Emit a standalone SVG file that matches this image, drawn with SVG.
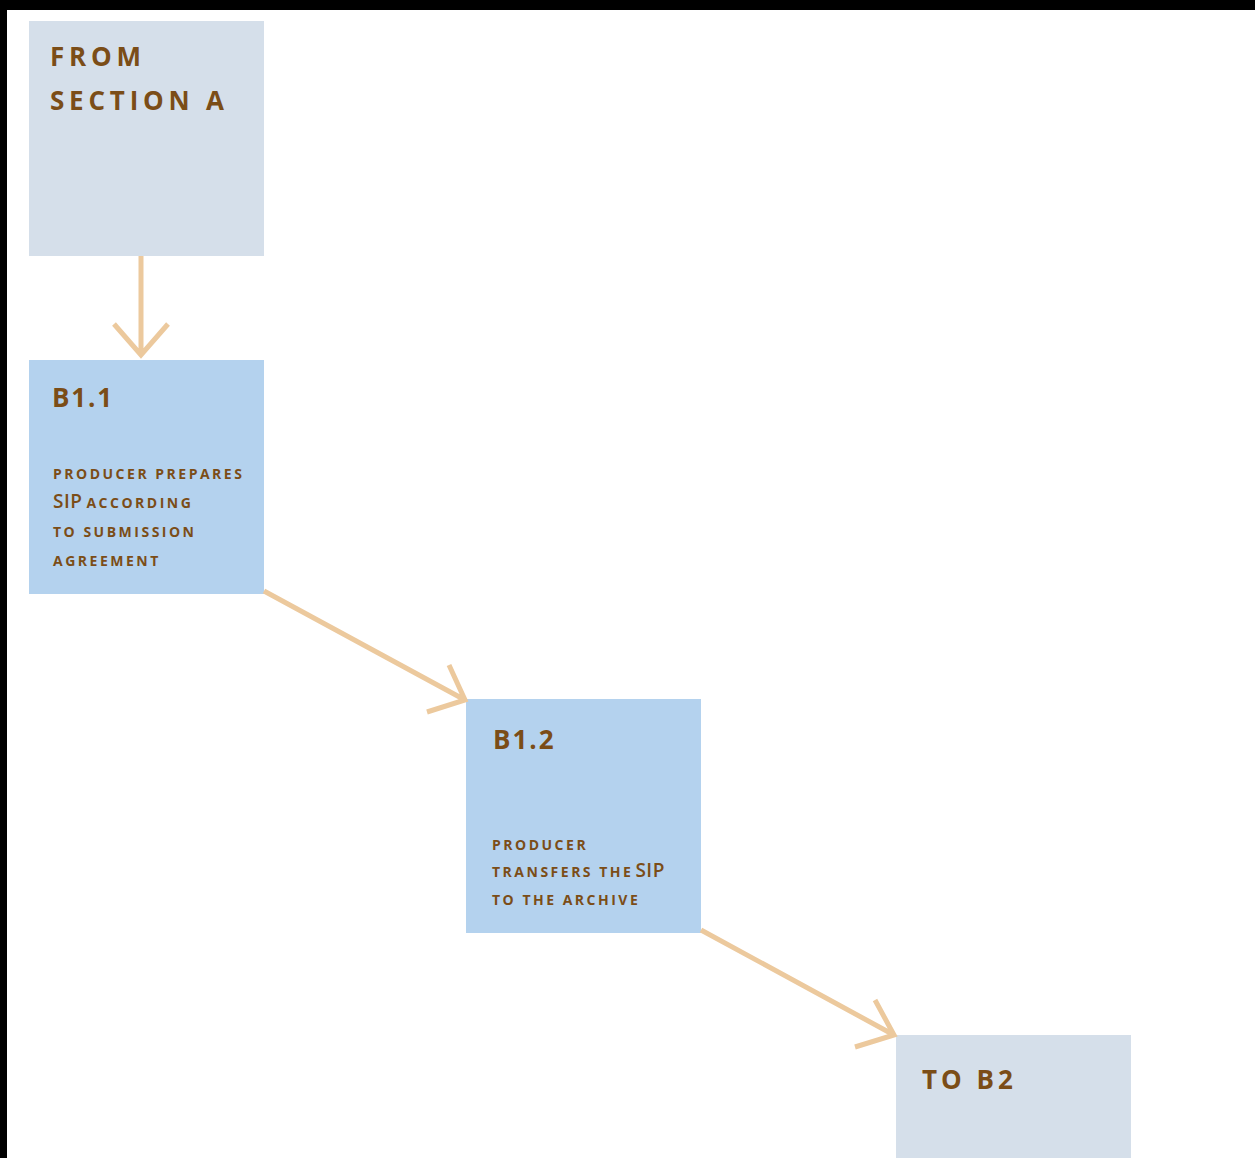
<svg xmlns="http://www.w3.org/2000/svg" width="1255" height="1158" viewBox="0 0 1255 1158">
<style>
.grey{fill:#d5dfea}
.blue{fill:#b4d2ee}
.t{font-family:"Open Sans","Liberation Sans",sans-serif;fill:#7b4d17;font-weight:bold}
.big{font-size:26px;letter-spacing:4.8px}
.sm{font-size:14px;letter-spacing:2.5px}
.sip{font-size:19px;font-weight:600;letter-spacing:0.5px}
.c{fill:none;stroke:#ecc99d;stroke-width:5;stroke-linecap:butt}
</style>
<rect x="0" y="0" width="1255" height="1158" fill="#ffffff"/>
<rect x="0" y="0" width="1255" height="10" fill="#000"/>
<rect x="0" y="0" width="7" height="1158" fill="#000"/>
<g id="from-a">
<rect class="grey" x="29" y="21" width="235" height="235"/>
<text class="t big" x="50" y="66">FROM</text>
<text class="t big" x="50" y="110">SECTION A</text>
</g>
<g id="b1-1">
<rect class="blue" x="29" y="360" width="235" height="234"/>
<text class="t big" x="52" y="407" style="letter-spacing:1.8px">B1.1</text>
<text class="t sm" x="53" y="479">PRODUCER PREPARES</text>
<text class="t" x="53" y="508"><tspan class="sip">SIP</tspan><tspan class="sm" dx="4">ACCORDING</tspan></text>
<text class="t sm" x="53" y="537">TO SUBMISSION</text>
<text class="t sm" x="53" y="566">AGREEMENT</text>
</g>
<g id="b1-2">
<rect class="blue" x="466" y="699" width="235" height="234"/>
<text class="t big" x="493" y="749" style="letter-spacing:2px">B1.2</text>
<text class="t sm" x="492" y="850">PRODUCER</text>
<text class="t" x="492" y="877"><tspan class="sm">TRANSFERS THE</tspan><tspan class="sip" dx="2">SIP</tspan></text>
<text class="t sm" x="492" y="905">TO THE ARCHIVE</text>
</g>
<g id="to-b2">
<rect class="grey" x="896" y="1035" width="235" height="130"/>
<text class="t big" x="922" y="1089" style="letter-spacing:4px">TO B2</text>
</g>
<g id="connectors">
<path class="c" d="M141,256 V355 M114,324 L141,355 L168,324"/>
<path class="c" d="M264,591 L465,700 M427,712 L465,700 L449,665"/>
<path class="c" d="M701,930 L894,1035 M855,1047 L894,1035 L875,1000"/>
</g>
</svg>
